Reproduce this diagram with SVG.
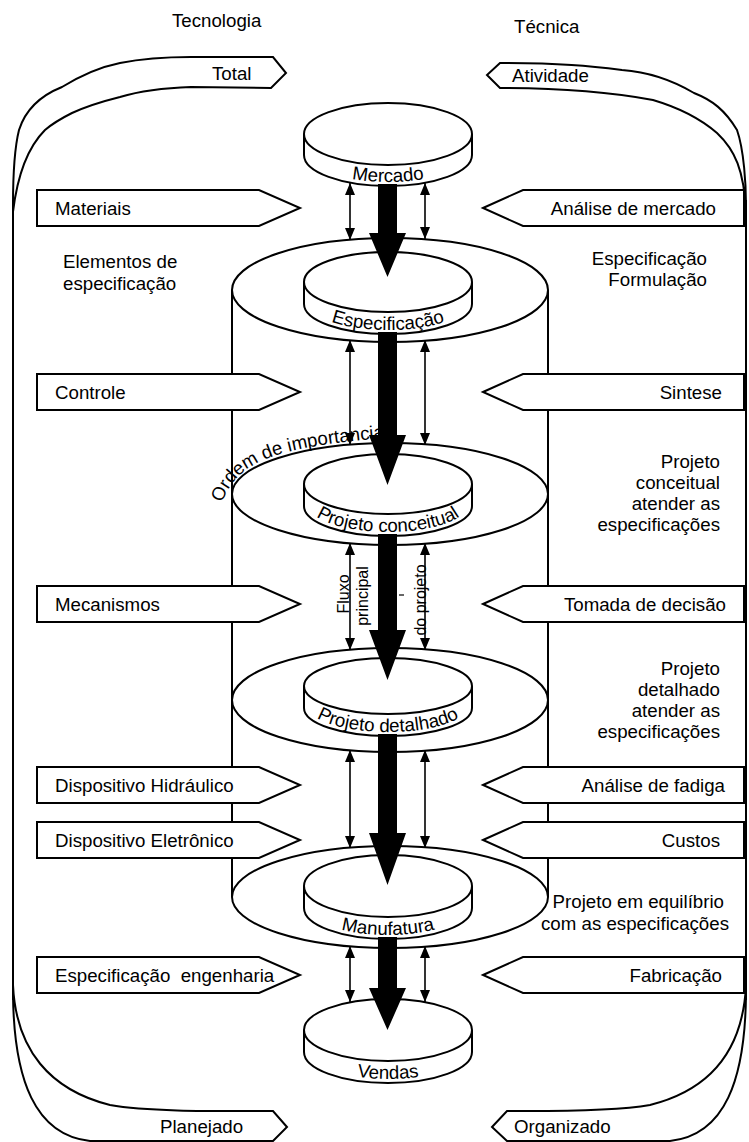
<svg xmlns="http://www.w3.org/2000/svg" width="749" height="1142" viewBox="0 0 749 1142">
<style>
text{font-family:"Liberation Sans",Arial,sans-serif;font-size:18.7px;fill:#000}
.ln{fill:none;stroke:#000;stroke-width:2;stroke-linejoin:miter}
.box{fill:#fff;stroke:#000;stroke-width:2}
.big{fill:#fff;stroke:#000;stroke-width:2}
.disk{fill:#fff;stroke:#000;stroke-width:2}
.thick{fill:#000}
.dbl{stroke:#000;stroke-width:1.6;fill:none}
.r{text-anchor:end}
.m{text-anchor:middle}
.sm{font-size:16px}
</style>
<defs>
<marker id="ah" viewBox="0 0 12 10" refX="12" refY="5" markerWidth="12" markerHeight="10" markerUnits="userSpaceOnUse" orient="auto-start-reverse"><path d="M0,0L12,5L0,10Z" fill="#000"/></marker>
<path id="pMer" d="M308,153 A80,29 0 0,0 468,153"/>
<path id="pEsp" d="M308,302 A80,28 0 0,0 468,302"/>
<path id="pPC" d="M308,504 A80,28 0 0,0 468,504"/>
<path id="pPD" d="M308,706 A80,26 0 0,0 468,706"/>
<path id="pMan" d="M308,906 A80,29 0 0,0 468,906"/>
<path id="pVen" d="M308,1050 A80,29 0 0,0 468,1050"/>
<path id="pOrd" d="M222,503 C236,462 275,447 385,438"/>
</defs>
<rect width="749" height="1142" fill="#fff"/>

<g id="frame">
<path class="ln" d="M13,205 C13,175 14,150 19,130 C26,108 42,95 62,87 C80,76 100,67 120,63 C145,58 170,57 191,57 L273,57 L286,73 L271,88 L191,87 C160,88 140,91 120,97 C100,102 85,107 72,113 C60,119 52,124 45,130 C30,145 18,170 13,212"/>
<path class="ln" d="M746,205 C746,185 744,150 737,130 C725,110 712,100 694,93 C672,80 650,72 622,70 C590,66 560,63 500,63 L487,75 L500,88 C560,88 610,92 653,100 C680,108 702,120 717,133 C735,150 744,170 746,212"/>
<path class="ln" d="M13,200 L13,1000"/>
<path class="ln" d="M746,200 L746,1000"/>
<path class="ln" d="M13,985 C16,1050 50,1090 110,1105 C150,1112 220,1111 273,1111 L287,1127 L273,1141 L90,1141 C35,1135 14,1080 13,995"/>
<path class="ln" d="M746,985 C743,1050 710,1090 650,1105 C610,1112 540,1111 507,1111 L492,1127 L507,1141 L670,1141 C725,1135 745,1080 746,995"/>
<text x="172" y="27">Tecnologia</text>
<text x="514" y="33">Técnica</text>
<text x="212" y="80">Total</text>
<text x="512" y="82">Atividade</text>
<text x="160" y="1133">Planejado</text>
<text x="514" y="1133">Organizado</text>
</g>

<g id="cylinder-sides">
<path class="ln" d="M232,290 L232,897 M548,290 L548,897"/>
</g>

<g id="stage-especificacao"><ellipse class="big" cx="390" cy="290" rx="158" ry="52"/></g>
<g id="stage-conceitual"><ellipse class="big" cx="390" cy="494" rx="158" ry="51"/></g>
<g id="stage-detalhado"><ellipse class="big" cx="390" cy="700" rx="158" ry="52"/></g>
<g id="stage-manufatura"><ellipse class="big" cx="390" cy="897" rx="158" ry="51"/></g>

<g id="disk-mercado">
<path class="disk" d="M304,134 L304,155 A84,31 0 0,0 472,155 L472,134"/>
<ellipse class="disk" cx="388" cy="134" rx="84" ry="31"/>
<text class="m"><textPath href="#pMer" startOffset="50%">Mercado</textPath></text>
</g>
<g id="disk-especificacao">
<path class="disk" d="M304,282 L304,304 A84,30 0 0,0 472,304 L472,282"/>
<ellipse class="disk" cx="388" cy="282" rx="84" ry="30"/>
<text class="m"><textPath href="#pEsp" startOffset="50%">Especificação</textPath></text>
</g>
<g id="disk-conceitual">
<path class="disk" d="M304,484 L304,506 A84,30 0 0,0 472,506 L472,484"/>
<ellipse class="disk" cx="388" cy="484" rx="84" ry="30"/>
<text class="m"><textPath href="#pPC" startOffset="50%">Projeto conceitual</textPath></text>
</g>
<g id="disk-detalhado">
<path class="disk" d="M304,686 L304,708 A84,28 0 0,0 472,708 L472,686"/>
<ellipse class="disk" cx="388" cy="686" rx="84" ry="28"/>
<text class="m"><textPath href="#pPD" startOffset="50%">Projeto detalhado</textPath></text>
</g>
<g id="disk-manufatura">
<path class="disk" d="M304,886 L304,908 A84,31 0 0,0 472,908 L472,886"/>
<ellipse class="disk" cx="388" cy="886" rx="84" ry="31"/>
<text class="m"><textPath href="#pMan" startOffset="50%">Manufatura</textPath></text>
</g>
<g id="disk-vendas">
<path class="disk" d="M304,1030 L304,1052 A84,31 0 0,0 472,1052 L472,1030"/>
<ellipse class="disk" cx="388" cy="1030" rx="84" ry="31"/>
<text class="m"><textPath href="#pVen" startOffset="50%">Vendas</textPath></text>
</g>

<g id="connectors">
<polygon class="thick" points="378,184 397,184 397,233 406,233 387.5,277 369,233 378,233"/>
<polygon class="thick" points="378,332 397,332 397,435 406,435 387.5,485 369,435 378,435"/>
<polygon class="thick" points="378,534 397,534 397,630 406,630 387.5,680 369,630 378,630"/>
<polygon class="thick" points="378,734 397,734 397,833 406,833 387.5,885 369,833 378,833"/>
<polygon class="thick" points="378,937 397,937 397,988 406,988 387.5,1030 369,988 378,988"/>
<g marker-start="url(#ah)" marker-end="url(#ah)">
<line class="dbl" x1="350" y1="183" x2="350" y2="240"/>
<line class="dbl" x1="425" y1="183" x2="425" y2="239"/>
<line class="dbl" x1="350" y1="340" x2="350" y2="445"/>
<line class="dbl" x1="425" y1="340" x2="425" y2="445"/>
<line class="dbl" x1="350" y1="543" x2="350" y2="650"/>
<line class="dbl" x1="425" y1="543" x2="425" y2="650"/>
<line class="dbl" x1="350" y1="750" x2="350" y2="848"/>
<line class="dbl" x1="425" y1="750" x2="425" y2="848"/>
<line class="dbl" x1="350" y1="946" x2="350" y2="1002"/>
<line class="dbl" x1="425" y1="946" x2="425" y2="1002"/>
</g>
<path d="M399,595 L404,595" stroke="#000" stroke-width="1.2"/>
</g>

<g id="in-materiais"><polygon class="box" points="37,190 259,190 300,208 259,226 37,226"/><text x="55" y="215">Materiais</text></g>
<g id="in-controle"><polygon class="box" points="37,374 259,374 300,392 259,410 37,410"/><text x="55" y="399">Controle</text></g>
<g id="in-mecanismos"><polygon class="box" points="37,586 259,586 300,604 259,622 37,622"/><text x="55" y="611">Mecanismos</text></g>
<g id="in-hidraulico"><polygon class="box" points="37,767 259,767 300,785 259,803 37,803"/><text x="55" y="792">Dispositivo Hidráulico</text></g>
<g id="in-eletronico"><polygon class="box" points="37,822 259,822 300,840 259,858 37,858"/><text x="55" y="847">Dispositivo Eletrônico</text></g>
<g id="in-engenharia"><polygon class="box" points="37,957 259,957 300,975 259,993 37,993"/><text x="55" y="982">Especificação&#160; engenharia</text></g>

<g id="out-analise-mercado"><polygon class="box" points="483,208 523,190 744,190 744,226 523,226"/><text class="r" x="716" y="215">Análise de mercado</text></g>
<g id="out-sintese"><polygon class="box" points="483,392 523,374 744,374 744,410 523,410"/><text class="r" x="722" y="399">Sintese</text></g>
<g id="out-tomada"><polygon class="box" points="483,604 523,586 744,586 744,622 523,622"/><text class="r" x="726" y="611">Tomada de decisão</text></g>
<g id="out-fadiga"><polygon class="box" points="483,785 523,767 744,767 744,803 523,803"/><text class="r" x="725" y="792">Análise de fadiga</text></g>
<g id="out-custos"><polygon class="box" points="483,840 523,822 744,822 744,858 523,858"/><text class="r" x="720" y="847">Custos</text></g>
<g id="out-fabricacao"><polygon class="box" points="483,975 523,957 744,957 744,993 523,993"/><text class="r" x="722" y="982">Fabricação</text></g>

<g id="annotations">
<text x="63" y="268">Elementos de</text>
<text x="63" y="290">especificação</text>
<text class="r" x="707" y="265">Especificação</text>
<text class="r" x="707" y="286">Formulação</text>
<text class="r" x="720" y="468">Projeto</text>
<text class="r" x="720" y="489">conceitual</text>
<text class="r" x="720" y="510">atender as</text>
<text class="r" x="720" y="531">especificações</text>
<text class="r" x="720" y="675">Projeto</text>
<text class="r" x="720" y="696">detalhado</text>
<text class="r" x="720" y="717">atender as</text>
<text class="r" x="720" y="738">especificações</text>
<text class="r" x="724" y="908">Projeto em equilíbrio</text>
<text class="r" x="729" y="930">com as especificações</text>
<text><textPath href="#pOrd">Ordem de importancia</textPath></text>
<text class="sm m" transform="translate(349,594) rotate(-90)">Fluxo</text>
<text class="sm m" transform="translate(368,596) rotate(-90)">principal</text>
<text class="sm m" transform="translate(426,600) rotate(-90)">do projeto</text>
</g>
</svg>
